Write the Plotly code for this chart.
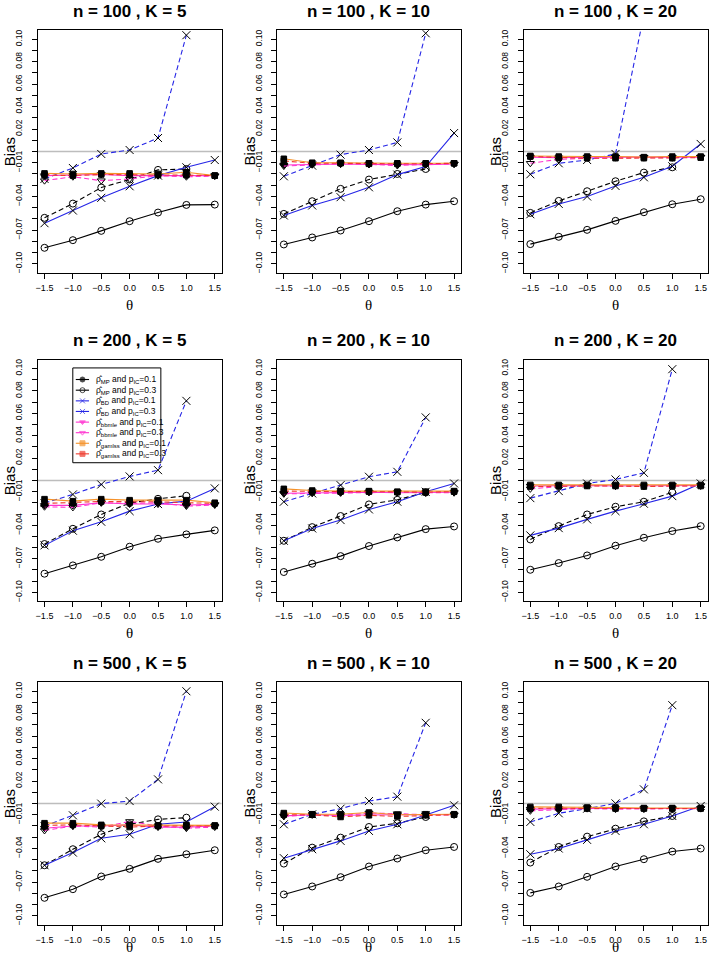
import plotly.graph_objects as go

W, H = 709, 955

theta = [-1.5, -1.0, -0.5, 0.0, 0.5, 1.0, 1.5]
theta_labels = ["−1.5", "−1.0", "−0.5", "0.0", "0.5", "1.0", "1.5"]
n_values = [100, 200, 500]
k_values = [5, 10, 20]

# y axis ticks every 0.01, only some of them labelled (as R thinned them)
bias_ticks = [round(-0.10 + 0.01 * i, 2) for i in range(21)]
bias_labels = {-0.10: "−0.10", -0.07: "−0.07", -0.04: "−0.04", -0.01: "−0.01",
               0.02: "0.02", 0.04: "0.04", 0.06: "0.06", 0.08: "0.08", 0.10: "0.10"}

# bias values, one row per panel: (100,5) (100,10) (100,20) (200,5) ... (500,20)
mp_01 = [
    [-0.0858, -0.0790, -0.0707, -0.0621, -0.0544, -0.0476, -0.0473],
    [-0.0828, -0.0766, -0.0704, -0.0621, -0.0532, -0.0473, -0.0443],
    [-0.0825, -0.0760, -0.0698, -0.0618, -0.0541, -0.0470, -0.0425],
    [-0.0833, -0.0759, -0.0682, -0.0592, -0.0521, -0.0482, -0.0446],
    [-0.0818, -0.0744, -0.0676, -0.0586, -0.0509, -0.0435, -0.0411],
    [-0.0798, -0.0738, -0.0670, -0.0583, -0.0512, -0.0452, -0.0408],
    [-0.0840, -0.0763, -0.0650, -0.0582, -0.0493, -0.0452, -0.0416],
    [-0.0810, -0.0739, -0.0656, -0.0561, -0.0490, -0.0416, -0.0387],
    [-0.0796, -0.0739, -0.0653, -0.0561, -0.0496, -0.0428, -0.0401],
]
mp_03 = [
    [-0.0591, -0.0464, -0.0321, -0.0250, -0.0164, -0.0156, None],
    [-0.0556, -0.0443, -0.0333, -0.0250, -0.0200, -0.0156, None],
    [-0.0547, -0.0440, -0.0354, -0.0265, -0.0188, -0.0141, None],
    [-0.0568, -0.0432, -0.0304, -0.0202, -0.0164, -0.0137, None],
    [-0.0539, -0.0417, -0.0318, -0.0214, -0.0173, -0.0107, None],
    [-0.0527, -0.0408, -0.0304, -0.0235, -0.0190, -0.0107, None],
    [-0.0550, -0.0407, -0.0274, -0.0185, -0.0141, -0.0126, None],
    [-0.0535, -0.0393, -0.0304, -0.0209, -0.0176, -0.0120, None],
    [-0.0526, -0.0387, -0.0295, -0.0224, -0.0159, -0.0111, None],
]
bd_01 = [
    [-0.0639, -0.0526, -0.0413, -0.0310, -0.0215, -0.0141, -0.0076],
    [-0.0570, -0.0481, -0.0407, -0.0319, -0.0206, -0.0135, 0.0164],
    [-0.0559, -0.0467, -0.0401, -0.0307, -0.0230, -0.0132, 0.0067],
    [-0.0580, -0.0449, -0.0369, -0.0274, -0.0211, -0.0185, -0.0071],
    [-0.0539, -0.0429, -0.0354, -0.0259, -0.0190, -0.0101, -0.0027],
    [-0.0491, -0.0426, -0.0348, -0.0274, -0.0208, -0.0140, -0.0027],
    [-0.0550, -0.0437, -0.0310, -0.0274, -0.0185, -0.0164, -0.0028],
    [-0.0487, -0.0407, -0.0333, -0.0244, -0.0185, -0.0102, -0.0016],
    [-0.0452, -0.0401, -0.0324, -0.0244, -0.0185, -0.0111, -0.0022],
]
bd_03 = [
    [-0.0244, -0.0147, -0.0022, 0.0013, 0.0120, 0.1036, None],
    [-0.0221, -0.0126, -0.0028, 0.0013, 0.0081, 0.1053, None],
    [-0.0203, -0.0105, -0.0076, -0.0022, 0.1220, 0.3000, None],
    [-0.0202, -0.0125, -0.0036, 0.0036, 0.0092, 0.0711, None],
    [-0.0190, -0.0116, -0.0042, 0.0033, 0.0077, 0.0563, None],
    [-0.0158, -0.0095, -0.0027, 0.0009, 0.0068, 0.0994, None],
    [-0.0200, -0.0105, -0.0001, 0.0022, 0.0215, 0.1000, None],
    [-0.0185, -0.0096, -0.0046, 0.0022, 0.0061, 0.0719, None],
    [-0.0164, -0.0087, -0.0046, 0.0001, 0.0126, 0.0876, None],
]
bbmle_01 = [
    [-0.0215, -0.0210, -0.0205, -0.0215, -0.0215, -0.0215, -0.0215],
    [-0.0120, -0.0115, -0.0112, -0.0115, -0.0118, -0.0118, -0.0112],
    [-0.0050, -0.0055, -0.0050, -0.0050, -0.0050, -0.0055, -0.0050],
    [-0.0223, -0.0223, -0.0199, -0.0211, -0.0211, -0.0220, -0.0214],
    [-0.0115, -0.0110, -0.0110, -0.0105, -0.0110, -0.0110, -0.0105],
    [-0.0050, -0.0045, -0.0045, -0.0050, -0.0050, -0.0045, -0.0045],
    [-0.0220, -0.0200, -0.0200, -0.0190, -0.0210, -0.0210, -0.0200],
    [-0.0110, -0.0100, -0.0105, -0.0100, -0.0100, -0.0100, -0.0100],
    [-0.0050, -0.0045, -0.0045, -0.0045, -0.0045, -0.0045, -0.0045],
]
bbmle_03 = [
    [-0.0260, -0.0225, -0.0260, -0.0245, -0.0215, -0.0225, -0.0220],
    [-0.0130, -0.0118, -0.0110, -0.0115, -0.0125, -0.0115, -0.0112],
    [-0.0105, -0.0070, -0.0060, -0.0055, -0.0055, -0.0055, -0.0050],
    [-0.0235, -0.0241, -0.0199, -0.0205, -0.0199, -0.0229, -0.0220],
    [-0.0120, -0.0115, -0.0110, -0.0105, -0.0105, -0.0110, -0.0110],
    [-0.0075, -0.0055, -0.0045, -0.0050, -0.0050, -0.0050, -0.0050],
    [-0.0240, -0.0200, -0.0210, -0.0160, -0.0200, -0.0220, -0.0210],
    [-0.0115, -0.0100, -0.0110, -0.0085, -0.0090, -0.0100, -0.0100],
    [-0.0065, -0.0055, -0.0045, -0.0050, -0.0050, -0.0050, -0.0045],
]
gamlss_01 = [
    [-0.0195, -0.0200, -0.0195, -0.0195, -0.0200, -0.0185, -0.0215],
    [-0.0065, -0.0100, -0.0100, -0.0105, -0.0105, -0.0105, -0.0105],
    [-0.0040, -0.0045, -0.0045, -0.0045, -0.0050, -0.0045, -0.0045],
    [-0.0167, -0.0185, -0.0167, -0.0176, -0.0176, -0.0176, -0.0199],
    [-0.0075, -0.0090, -0.0095, -0.0095, -0.0100, -0.0100, -0.0095],
    [-0.0040, -0.0040, -0.0040, -0.0040, -0.0040, -0.0040, -0.0040],
    [-0.0175, -0.0175, -0.0190, -0.0190, -0.0195, -0.0190, -0.0195],
    [-0.0085, -0.0095, -0.0095, -0.0080, -0.0100, -0.0095, -0.0095],
    [-0.0030, -0.0030, -0.0035, -0.0035, -0.0040, -0.0040, -0.0040],
]
gamlss_03 = [
    [-0.0210, -0.0215, -0.0205, -0.0210, -0.0210, -0.0210, -0.0215],
    [-0.0085, -0.0105, -0.0105, -0.0110, -0.0110, -0.0108, -0.0105],
    [-0.0045, -0.0055, -0.0060, -0.0060, -0.0060, -0.0060, -0.0055],
    [-0.0205, -0.0199, -0.0188, -0.0190, -0.0190, -0.0199, -0.0205],
    [-0.0095, -0.0100, -0.0100, -0.0100, -0.0105, -0.0105, -0.0100],
    [-0.0055, -0.0050, -0.0050, -0.0050, -0.0055, -0.0050, -0.0050],
    [-0.0195, -0.0190, -0.0200, -0.0210, -0.0200, -0.0200, -0.0200],
    [-0.0100, -0.0100, -0.0120, -0.0105, -0.0115, -0.0105, -0.0100],
    [-0.0045, -0.0040, -0.0045, -0.0045, -0.0045, -0.0045, -0.0045],
]

# (legend text, values, line colour, dash, marker in plot, marker size, marker in legend)
series = [
    ("ρ̂<sub>MP</sub> and p<sub>IC</sub>=0.1", mp_01, "black", "solid", "circle-open", 7, "circle"),
    ("ρ̂<sub>MP</sub> and p<sub>IC</sub>=0.3", mp_03, "black", "5px,3px", "circle-open", 7, "circle-open"),
    ("ρ̂<sub>BD</sub> and p<sub>IC</sub>=0.1", bd_01, "#2525e6", "solid", "x-thin-open", 8, "x-thin-open"),
    ("ρ̂<sub>BD</sub> and p<sub>IC</sub>=0.3", bd_03, "#2525e6", "5px,3px", "x-thin-open", 8, "x-thin-open"),
    ("ρ̂<sub>bbmle</sub> and p<sub>IC</sub>=0.1", bbmle_01, "#ff30d0", "solid", "triangle-down", 7, "triangle-down"),
    ("ρ̂<sub>bbmle</sub> and p<sub>IC</sub>=0.3", bbmle_03, "#ff30d0", "5px,3px", "triangle-down-open", 7, "triangle-down-open"),
    ("ρ̂<sub>gamlss</sub> and p<sub>IC</sub>=0.1", gamlss_01, "#f5922a", "solid", "square", 5.5, "square"),
    ("ρ̂<sub>gamlss</sub> and p<sub>IC</sub>=0.3", gamlss_03, "#ee3a2c", "5px,3px", "square", 5.5, "square"),
]

FONT = "Liberation Sans, Arial, sans-serif"
col_box = [(35.8, 220.2), (275.8, 460.2), (523.0, 707.5)]
row_box = [(29.3, 272.3), (359.3, 601.6), (682.7, 925.7)]
theta_y = [305, 633, 948]

fig = go.Figure()
annotations = []
shapes = []
layout_axes = {}

for i in range(9):
    r, c = divmod(i, 3)
    s = "" if i == 0 else str(i + 1)
    left, right = col_box[c]
    top, bottom = row_box[r]

    for name, data, color, dash, sym, msize, _ in series:
        fig.add_trace(go.Scatter(
            x=theta, y=data[i], mode="lines+markers",
            line=dict(color=color, width=1.1, dash=dash),
            marker=dict(symbol=sym, size=msize, color="black",
                        line=dict(color="black", width=1)),
            xaxis="x" + s, yaxis="y" + s, showlegend=False, hoverinfo="skip",
        ))

    layout_axes["xaxis" + s] = dict(
        domain=[left / W, right / W], anchor="y" + s, range=[-1.62, 1.62],
        tickvals=theta, ticktext=theta_labels, ticks="outside", ticklen=5,
        tickcolor="black", showline=True, mirror=True, linecolor="black",
        linewidth=1, showgrid=False, zeroline=False, ticklabelstandoff=1,
        tickfont=dict(family=FONT, size=9, color="black"),
    )
    layout_axes["yaxis" + s] = dict(
        domain=[1 - bottom / H, 1 - top / H], anchor="x" + s, range=[-0.108, 0.108],
        tickvals=bias_ticks, ticktext=[bias_labels.get(v, "") for v in bias_ticks],
        tickangle=-90, ticks="outside", ticklen=5, tickcolor="black",
        showline=True, mirror=True, linecolor="black", linewidth=1,
        showgrid=False, zeroline=False, ticklabelstandoff=6,
        tickfont=dict(family=FONT, size=8.5, color="black"),
    )

    # reference line at zero
    shapes.append(dict(type="line", xref="x" + s + " domain", yref="y" + s,
                       x0=0, x1=1, y0=0, y1=0,
                       line=dict(color="#bdbdbd", width=1.5), layer="below"))

    cx = (left + right) / 2
    annotations.append(dict(
        text=f"<b>n = {n_values[r]} , K = {k_values[c]}</b>",
        x=cx / W, y=1 - (top - 19) / H, xref="paper", yref="paper",
        showarrow=False, xanchor="center", yanchor="middle",
        font=dict(family=FONT, size=17, color="black")))
    annotations.append(dict(
        text="Bias", x=(left - 28) / W, y=1 - ((top + bottom) / 2) / H,
        xref="paper", yref="paper", showarrow=False, textangle=-90,
        xanchor="center", yanchor="middle",
        font=dict(family=FONT, size=15, color="black")))
    annotations.append(dict(
        text="θ", x=cx / W, y=1 - theta_y[r] / H, xref="paper", yref="paper",
        showarrow=False, xanchor="center", yanchor="middle",
        font=dict(family="Liberation Serif, serif", size=15, color="black")))

# legend drawn by hand inside the n=200, K=5 panel (pixel coordinates)
leg_l, leg_r, leg_t, leg_b = 71, 159.3, 367.7, 462.7
shapes.append(dict(type="rect", xref="paper", yref="paper",
                   x0=leg_l / W, x1=leg_r / W, y0=1 - leg_b / H, y1=1 - leg_t / H,
                   line=dict(color="black", width=1), fillcolor="white", layer="below"))
row_y = [379.3, 390.0, 400.7, 411.3, 422.0, 432.6, 443.2, 453.8]
for (name, _, color, dash, _, _, lsym), yy in zip(series, row_y):
    fig.add_trace(go.Scatter(
        x=[74, 80.7, 87.3], y=[yy, yy, yy], mode="lines+markers",
        line=dict(color=color, width=1.1),
        marker=dict(symbol=lsym, size=[0, 5, 0], color=color,
                    line=dict(color=color, width=1)),
        xaxis="x10", yaxis="y10", showlegend=False, hoverinfo="skip",
    ))
    annotations.append(dict(
        text=name, x=92 / W, y=1 - yy / H, xref="paper", yref="paper",
        showarrow=False, xanchor="left", yanchor="middle",
        font=dict(family=FONT, size=8.5, color="black")))

layout_axes["xaxis10"] = dict(domain=[0, 1], range=[0, W], visible=False,
                              anchor="y10", fixedrange=True)
layout_axes["yaxis10"] = dict(domain=[0, 1], range=[H, 0], visible=False,
                              anchor="x10", fixedrange=True)

fig.update_layout(
    width=W, height=H,
    margin=dict(l=0, r=0, t=0, b=0),
    paper_bgcolor="white", plot_bgcolor="rgba(0,0,0,0)",
    showlegend=False,
    annotations=annotations, shapes=shapes,
    **layout_axes,
)

# drop the default 8px body margin so the figure fills the window exactly
fig.write_html("out.html", config={"displayModeBar": False},
               post_script="document.body.style.margin='0';")
